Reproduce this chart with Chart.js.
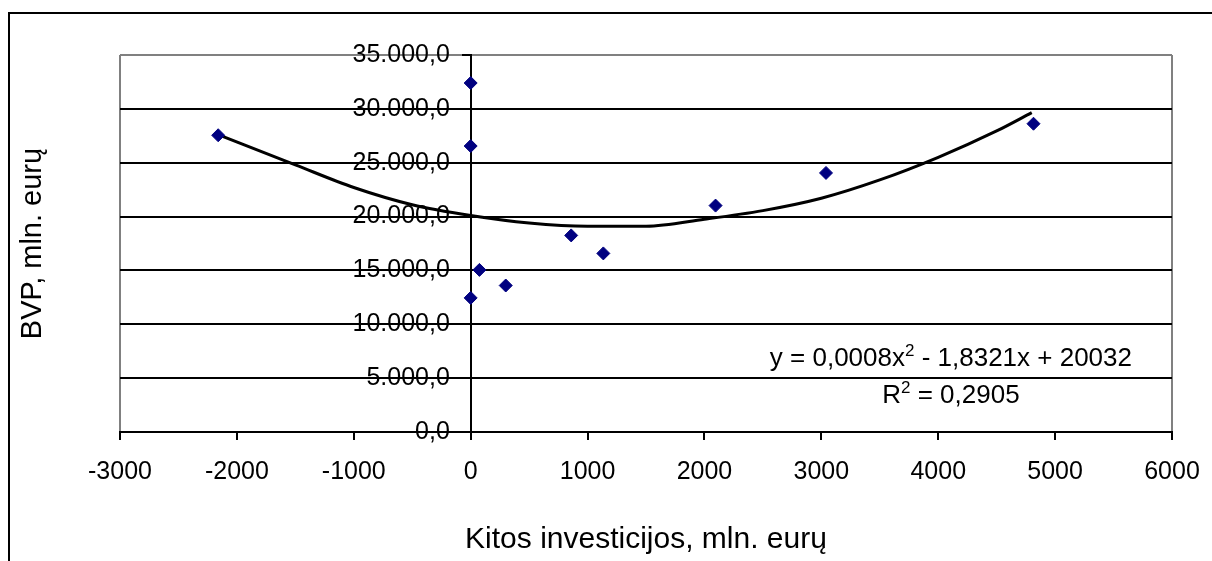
<!DOCTYPE html>
<html>
<head>
<meta charset="utf-8">
<script src="https://cdn.jsdelivr.net/npm/chart.js@4"></script>
<style>
  body { margin: 0; background: #fff; }
  #wrap { position: relative; width: 1212px; height: 561px; overflow: hidden; }
  #frame { position: absolute; left: 8px; top: 12px; width: 1300px; height: 700px; border-top: 2px solid #000; border-left: 2px solid #000; }
  #bvp-chart { position: absolute; left: 0; top: 0; }
</style>
</head>
<body>
<div id="wrap">
  <div id="frame"></div>
  <canvas id="bvp-chart" width="1212" height="561"></canvas>
</div>
<script>
// observed points: other investments (x) vs GDP (y)
const investments = [-2160, 0, 0, 0, 75, 300, 860, 1135, 2095, 3040, 4815];
const gdp = [27550, 32400, 26550, 12450, 15050, 13600, 18250, 16580, 21020, 24050, 28620];

// polynomial trend line
const trendX = [-2155, -1500, -1000, -500, 0, 500, 1000, 1500, 2000, 2500, 3000, 3500, 4000, 4500, 4800];
const trendY = [27580, 24800, 22700, 21100, 20100, 19400, 19100, 19100, 19750, 20550, 21700, 23400, 25500, 27950, 29650];

const xTickLabels = ["-3000", "-2000", "-1000", "0", "1000", "2000", "3000", "4000", "5000", "6000"];
const yTickLabels = ["0,0", "5.000,0", "10.000,0", "15.000,0", "20.000,0", "25.000,0", "30.000,0", "35.000,0"];

const equationStart = "y = 0,0008x";
const equationEnd = " - 1,8321x + 20032";
const rSquaredValue = " = 0,2905";

const FONT = "'Liberation Sans', Arial, sans-serif";
Chart.defaults.font.family = FONT;
Chart.defaults.color = "#000";

function drawRuns(ctx, runs, x, baseline) {
  let pos = x;
  runs.forEach(r => {
    ctx.font = r.size + "px " + FONT;
    ctx.fillText(r.text, pos, baseline + r.shift);
    pos += ctx.measureText(r.text).width;
  });
}

function runsWidth(ctx, runs) {
  let w = 0;
  runs.forEach(r => {
    ctx.font = r.size + "px " + FONT;
    w += ctx.measureText(r.text).width;
  });
  return w;
}

const equationLabel = {
  id: "equationLabel",
  afterDatasetsDraw(chart) {
    const { ctx, chartArea } = chart;
    ctx.save();
    ctx.fillStyle = "#000";
    ctx.textBaseline = "alphabetic";
    ctx.textAlign = "left";
    const line1 = [
      { text: equationStart, size: 26, shift: 0 },
      { text: "2", size: 17, shift: -10 },
      { text: equationEnd, size: 26, shift: 0 },
    ];
    const line2 = [
      { text: "R", size: 26, shift: 0 },
      { text: "2", size: 17, shift: -10 },
      { text: rSquaredValue, size: 26, shift: 0 },
    ];
    const w1 = runsWidth(ctx, line1);
    const right = chartArea.right - 40;
    const center = right - w1 / 2;
    drawRuns(ctx, line1, right - w1, 366);
    const w2 = runsWidth(ctx, line2);
    drawRuns(ctx, line2, center - w2 / 2, 403);
    ctx.restore();
  },
};

const chartElement = document.getElementById("bvp-chart").getContext("2d");
const bvpChart = new Chart(chartElement, {
  type: "scatter",
  data: {
    datasets: [
      {
        data: investments.map((x, i) => ({ x: x, y: gdp[i] })),
        pointStyle: "rectRot",
        pointRadius: 6.5,
        pointBorderWidth: 1,
        backgroundColor: "#000080",
        borderColor: "#000080",
        order: 0,
      },
      {
        type: "line",
        data: trendX.map((x, i) => ({ x: x, y: trendY[i] })),
        borderColor: "#000",
        borderWidth: 3,
        pointRadius: 0,
        cubicInterpolationMode: "monotone",
        fill: false,
        order: 1,
      },
    ],
  },
  options: {
    responsive: false,
    animation: false,
    events: [],
    layout: { padding: { left: 0, top: 55, right: 40, bottom: 0 } },
    plugins: {
      legend: { display: false },
      tooltip: { enabled: false },
    },
    scales: {
      x: {
        type: "linear",
        position: "bottom",
        min: -3000,
        max: 6000,
        ticks: {
          stepSize: 1000,
          font: { size: 25 },
          padding: 17,
          maxRotation: 0,
          callback: (v, i) => xTickLabels[i],
        },
        grid: {
          color: (c) => (c.index === 0 || c.index === xTickLabels.length - 1 ? "#808080" : "rgba(0,0,0,0)"),
          lineWidth: 2,
          tickColor: "#000",
          tickLength: 8,
        },
        border: { color: "#000", width: 2 },
        title: {
          display: true,
          text: "Kitos investicijos, mln. eurų",
          font: { size: 30 },
          padding: { top: 0, bottom: 3 },
        },
        afterFit(scale) {
          scale.height = 129;
          // the label padding would otherwise widen the right margin
          scale.paddingRight = 40;
          scale.paddingLeft = 0;
        },
      },
      y: {
        type: "linear",
        position: { x: 0 },
        min: 0,
        max: 35000,
        ticks: {
          stepSize: 5000,
          font: { size: 25 },
          // a y axis placed at x = 0 gets no label padding, so keep a gap after the text
          callback: (v, i) => yTickLabels[i] + "   ",
        },
        grid: {
          color: (c) => (c.tick && c.tick.value === 35000 ? "#808080" : "#000"),
          lineWidth: 2,
          tickColor: "#000",
          tickLength: 8,
        },
        border: { color: "#000", width: 2 },
      },
      yTitle: {
        type: "linear",
        position: "left",
        ticks: { display: false },
        grid: { display: false },
        border: { display: false },
        title: {
          display: true,
          text: "BVP, mln. eurų",
          font: { size: 29 },
          padding: { top: 16, bottom: 0 },
        },
        afterFit(scale) {
          scale.width = 120;
        },
      },
    },
  },
  plugins: [equationLabel],
});
</script>
</body>
</html>
